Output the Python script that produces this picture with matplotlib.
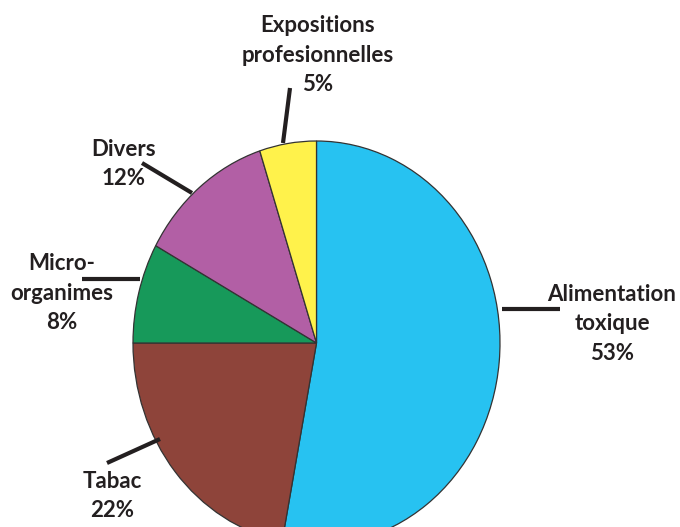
import matplotlib
matplotlib.use("Agg")
import matplotlib.pyplot as plt
from matplotlib.lines import Line2D

# ---- data ----
categories = ["Alimentation\ntoxique", "Tabac", "Micro-\norganimes", "Divers", "Expositions\nprofesionnelles"]
values = [53, 22, 8, 12, 5]
colors = ["#27C2F1", "#8E443A", "#17995A", "#B25FA5", "#FFF24B"]

W, H = 680, 527
fig = plt.figure(figsize=(W / 100, H / 100), dpi=100)
ax = fig.add_axes([0, 0, 1, 1])

cx, cy, rx, ry = 316.5, 343.0, 183.5, 202.0
ax.pie(values, colors=colors, startangle=90, counterclock=False,
       radius=1, center=(0, 0),
       wedgeprops=dict(edgecolor="#333333", linewidth=0.9))
ax.set_aspect("auto")
ax.set_xlim(-cx / rx, (W - cx) / rx)
ax.set_ylim(-(H - cy) / ry, cy / ry)
ax.axis("off")

def fx(x):
    return x / W

def fy(y):
    return 1 - y / H

txt_color = "#231F20"
font = dict(family=["Lato", "DejaVu Sans"], fontweight="bold", fontsize=16,
            color=txt_color, ha="center", va="center", linespacing=1.5)

# label block centres (pixels)
label_pos = [(612, 324), (112, 496), (62, 293), (124, 164), (318, 55)]
for cat, v, (x, y) in zip(categories, values, label_pos):
    fig.text(fx(x), fy(y), f"{cat}\n{v}%", transform=fig.transFigure, **font)

# leader lines (pixels)
leaders = [((502, 309), (560, 309)),
           ((160, 439), (107, 463)),
           ((140, 279), (82, 279)),
           ((192, 193), (142, 163)),
           ((283, 143), (290, 88))]
for (x0, y0), (x1, y1) in leaders:
    fig.add_artist(Line2D([fx(x0), fx(x1)], [fy(y0), fy(y1)],
                          transform=fig.transFigure, color=txt_color,
                          linewidth=3, solid_capstyle="butt"))

fig.savefig("out.png", dpi=100)
